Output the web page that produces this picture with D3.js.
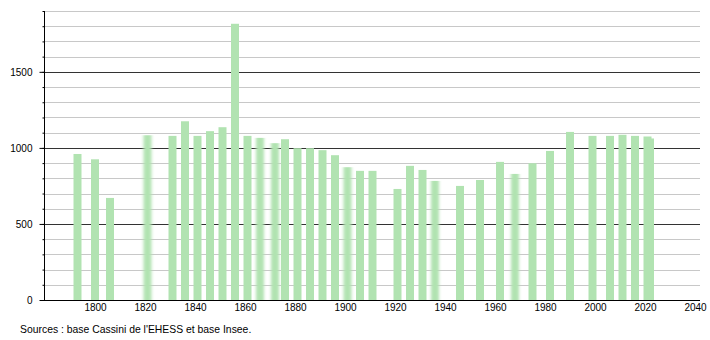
<!DOCTYPE html>
<html>
<head>
<meta charset="utf-8">
<script src="https://cdn.jsdelivr.net/npm/d3@7"></script>
<style>
  html, body { margin: 0; padding: 0; background: #fff; }
  svg { display: block; font-family: "Liberation Sans", Arial, sans-serif; }
</style>
</head>
<body>
<svg id="chart" width="710" height="340"></svg>
<script>
// ---- data ----
const years = [1793, 1800, 1806, 1821, 1831, 1836, 1841, 1846, 1851, 1856,
               1861, 1866, 1872, 1876, 1881, 1886, 1891, 1896, 1901, 1906,
               1911, 1921, 1926, 1931, 1936, 1946, 1954, 1962, 1968, 1975,
               1982, 1990, 1999, 2006, 2011, 2016, 2021, 2022];
const population = [960, 925, 671, 1083, 1079, 1175, 1079, 1110, 1136, 1816,
                    1079, 1066, 1031, 1057, 998, 998, 985, 952, 873, 849,
                    849, 730, 882, 855, 783, 750, 789, 908, 829, 899,
                    980, 1105, 1079, 1079, 1086, 1079, 1075, 1062];
const xTickLabels = [1800, 1820, 1840, 1860, 1880, 1900, 1920, 1940, 1960, 1980, 2000, 2020, 2040];
const yTickLabels = [0, 500, 1000, 1500];
const yMinorTicks = d3.range(0, 2000, 100);
const softYears = [1821, 1866, 1872, 1901, 1936, 1968];
const sourceText = "Sources : base Cassini de l'EHESS et base Insee.";

// ---- layout ----
const svg = d3.select("#chart");
const mLeft = 45, mRight = 695, plotRight = 700, mBottom = 300, mTop = 11;
const x = d3.scaleLinear().domain([1780, 2040]).range([mLeft, mRight]);
const y = d3.scaleLinear().domain([0, 1900]).range([mBottom, mTop]);
const barColor = "#b1e3b1";

const defs = svg.append("defs");
defs.append("filter").attr("id", "soft")
  .attr("x", "-50%").attr("y", "-5%").attr("width", "200%").attr("height", "110%")
  .append("feGaussianBlur").attr("stdDeviation", "1.4 0.3");

// gridlines
svg.append("g").selectAll("line")
  .data(yMinorTicks.filter(v => v > 0))
  .join("line")
  .attr("x1", mLeft - 0.5).attr("x2", plotRight)
  .attr("y1", d => Math.round(y(d)) + 0.5).attr("y2", d => Math.round(y(d)) + 0.5)
  .attr("stroke", d => d % 500 === 0 ? "#333" : "#c8c8c8")
  .attr("stroke-width", 1);

// bars
const halfW = 1.6;
svg.append("g").selectAll("rect")
  .data(years.map((yr, i) => ({ yr, v: population[i] })))
  .join("rect")
  .attr("x", d => x(d.yr - halfW))
  .attr("width", d => x(d.yr + halfW) - x(d.yr - halfW))
  .attr("y", d => y(d.v))
  .attr("height", d => y(0) - y(d.v))
  .attr("fill", barColor)
  .attr("filter", d => softYears.includes(d.yr) ? "url(#soft)" : null);

// y axis: minor ticks
svg.append("g")
  .attr("transform", `translate(${mLeft - 0.5},0)`)
  .call(d3.axisLeft(y).tickValues(yMinorTicks).tickSize(2).tickFormat(""))
  .call(g => g.select(".domain").remove())
  .selectAll("line").attr("stroke", "#000");

// y axis: major ticks + labels
const yAxis = svg.append("g")
  .attr("transform", `translate(${mLeft - 0.5},0)`)
  .call(d3.axisLeft(y).tickValues(yTickLabels).tickSize(5).tickPadding(7).tickFormat(d3.format("d")));
yAxis.select(".domain").remove();
yAxis.selectAll("line").attr("stroke", "#000");
yAxis.selectAll("text").attr("font-size", 10).attr("fill", "#000")
  .attr("font-family", "'Liberation Sans', Arial, sans-serif");

// y axis line
svg.append("line")
  .attr("x1", mLeft - 0.5).attr("x2", mLeft - 0.5)
  .attr("y1", y(1900)).attr("y2", mBottom)
  .attr("stroke", "#000");

// x axis
const xAxis = svg.append("g")
  .attr("transform", `translate(0,${mBottom})`)
  .call(d3.axisBottom(x).tickValues(xTickLabels).tickSize(0).tickPadding(4).tickFormat(d3.format("d")));
xAxis.select(".domain").remove();
xAxis.selectAll("text").attr("font-size", 10).attr("fill", "#000")
  .attr("font-family", "'Liberation Sans', Arial, sans-serif");
svg.append("line")
  .attr("x1", mLeft - 5).attr("x2", plotRight)
  .attr("y1", mBottom + 0.5).attr("y2", mBottom + 0.5)
  .attr("stroke", "#000");

// source
svg.append("text")
  .attr("x", 20).attr("y", 333)
  .attr("font-size", 10.4).attr("fill", "#000")
  .text(sourceText);
</script>
</body>
</html>
